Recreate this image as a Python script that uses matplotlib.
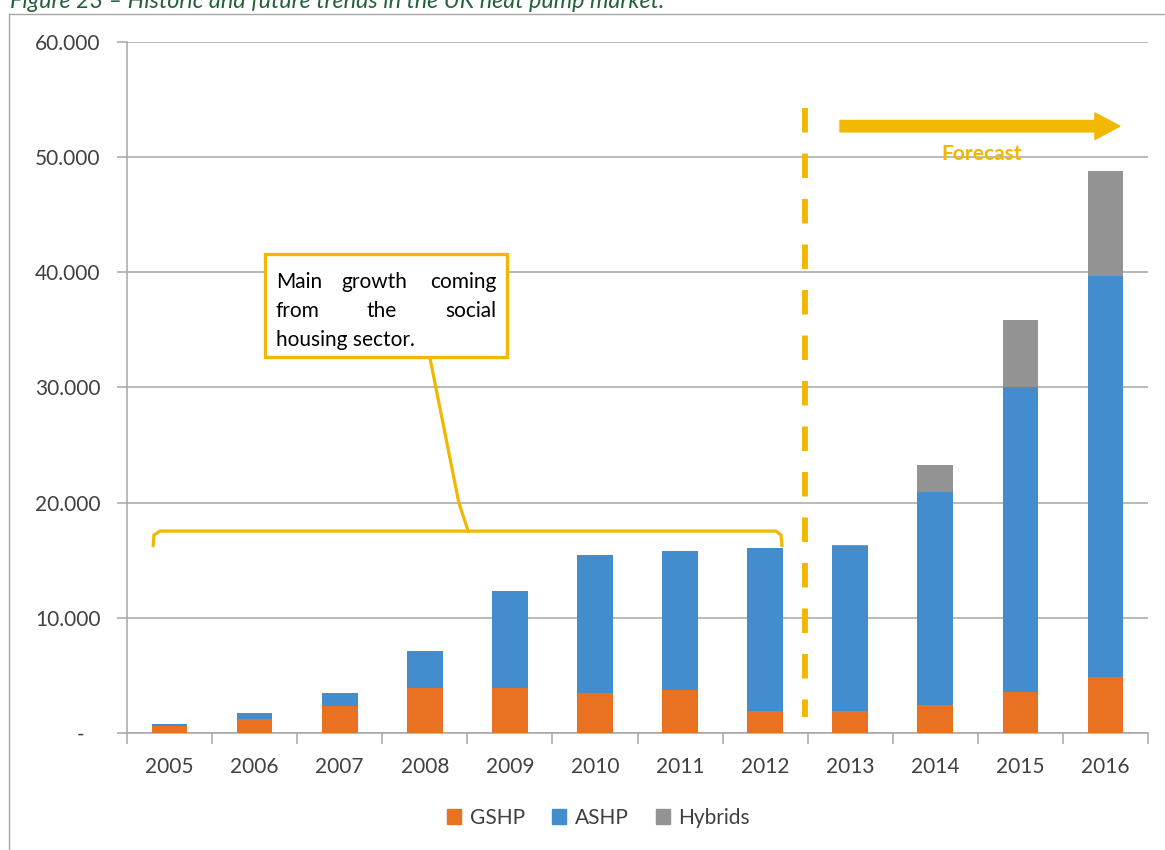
import numpy as np
import matplotlib
matplotlib.use("Agg")
import matplotlib.pyplot as plt
from matplotlib.patches import Patch, Rectangle
from matplotlib.lines import Line2D
from matplotlib.ticker import FuncFormatter, MultipleLocator

plt.rcParams['font.family'] = ['Lato', 'DejaVu Sans']

years = ['2005', '2006', '2007', '2008', '2009', '2010',
         '2011', '2012', '2013', '2014', '2015', '2016']
gshp = [600, 1250, 2350, 3900, 3900, 3450, 3700, 1900, 1950, 2400, 3600, 4850]
ashp = [150, 500, 1150, 3250, 8400, 12000, 12100, 14150, 14300, 18500, 26400, 34850]
hybrids = [0, 0, 0, 0, 0, 0, 0, 50, 100, 2400, 5900, 9100]

orange = '#e97122'
blue = '#438ccd'
grey = '#939393'
gold = '#f2b700'
axis_grey = '#a6a6a6'
text_grey = '#404040'

fig = plt.figure(figsize=(11.65, 8.5), dpi=100)
ax = fig.add_axes([127 / 1165, 1 - 733 / 850, (1148 - 127) / 1165, (733 - 42) / 850])

x = np.arange(len(years))
w = 0.42
ax.bar(x, gshp, w, color=orange, label='GSHP', zorder=3)
ax.bar(x, ashp, w, bottom=gshp, color=blue, label='ASHP', zorder=3)
ax.bar(x, hybrids, w, bottom=np.add(gshp, ashp), color=grey, label='Hybrids', zorder=3)

ax.set_xlim(-0.5, 11.5)
ax.set_ylim(0, 60000)
ax.set_axisbelow(True)
ax.yaxis.set_major_locator(MultipleLocator(10000))
ax.yaxis.set_major_formatter(FuncFormatter(
    lambda v, p: '-   ' if v == 0 else f'{v:,.0f}'.replace(',', '.')))
ax.grid(axis='y', color=axis_grey, lw=1.1, zorder=0)
for s in ['top', 'right']:
    ax.spines[s].set_visible(False)
for s in ['left', 'bottom']:
    ax.spines[s].set_color(axis_grey)
    ax.spines[s].set_linewidth(1.1)

ax.tick_params(axis='y', length=7, color=axis_grey, width=1.1, pad=12,
               labelsize=15, labelcolor=text_grey)
ax.set_xticks(x)
ax.set_xticklabels(years)
ax.set_xticks(np.arange(-0.5, 12, 1), minor=True)
ax.tick_params(axis='x', which='major', length=0, pad=17, labelsize=15, labelcolor=text_grey)
ax.tick_params(axis='x', which='minor', length=8, color=axis_grey, width=1.1)

# forecast divider and arrow
ax.plot([7.469, 7.469], [54250, 1390], color=gold, lw=4.2,
        ls=(0, (4.2, 3.6)), zorder=4)
ax.annotate('', xy=(11.17, 52690), xytext=(7.88, 52690),
            arrowprops=dict(arrowstyle='simple,head_length=0.9,head_width=0.95,tail_width=0.41',
                            mutation_scale=20, color=gold, shrinkA=0, shrinkB=0), zorder=4)
ft = ax.text(9.54, 49750, 'Forecast', color=gold, fontsize=15, fontweight='bold',
             ha='center', va='baseline', zorder=2)
ft.set_clip_path(Rectangle((8, 50000), 3, 5000, transform=ax.transData))

# brace under historic years + callout
bx = [-0.194, -0.183, -0.112, 7.128, 7.187, 7.199]
by = [16146, 17188, 17535, 17535, 17188, 16146]
ax.plot(bx, by, color=gold, lw=2.3, zorder=4, solid_capstyle='butt')
ax.plot([3.061, 3.40, 3.51], [32552, 20000, 17535], color=gold, lw=2.3, zorder=4)

box = Rectangle((1.122, 32640), 3.966 - 1.122, 41580 - 32640, facecolor='white',
                edgecolor=gold, lw=2.4, zorder=5)
ax.add_patch(box)
clip = Rectangle((1.122, 33507), 3.966 - 1.122, 41580 - 33507, transform=ax.transData)
lines = [(38630, [('Main', 1.251, 'left'), ('growth', 2.409, 'center'), ('coming', 3.837, 'right')]),
         (36140, [('from', 1.251, 'left'), ('the', 2.497, 'center'), ('social', 3.837, 'right')]),
         (33640, [('housing sector.', 1.251, 'left')])]
for yy, words in lines:
    for word, xx, ha in words:
        t = ax.text(xx, yy, word, fontsize=15, color='black', ha=ha, va='baseline', zorder=6)
        t.set_clip_path(clip)

# legend
handles = [Patch(color=orange), Patch(color=blue), Patch(color=grey)]
fig.legend(handles, ['GSHP', 'ASHP', 'Hybrids'], loc='center', ncol=3,
           bbox_to_anchor=(0.5137, 0.0376), frameon=False, fontsize=15,
           labelcolor=text_grey, handlelength=0.7, handleheight=0.7,
           handletextpad=0.4, columnspacing=1.3)

# caption (cut off at top as in the source page) and outer frame
fig.text(10 / 1165, 1 - 8 / 850, 'Figure 23 \u2013 Historic and future trends in the UK heat pump market.',
         color='#23613a', fontsize=16.8, style='italic', va='baseline', ha='left')
fig.add_artist(Line2D([9 / 1165, 9 / 1165], [0, 1 - 14 / 850], transform=fig.transFigure,
                      color=axis_grey, lw=1))
fig.add_artist(Line2D([9 / 1165, 1], [1 - 14 / 850, 1 - 14 / 850], transform=fig.transFigure,
                      color=axis_grey, lw=1))

fig.savefig('out.png', dpi=100)
